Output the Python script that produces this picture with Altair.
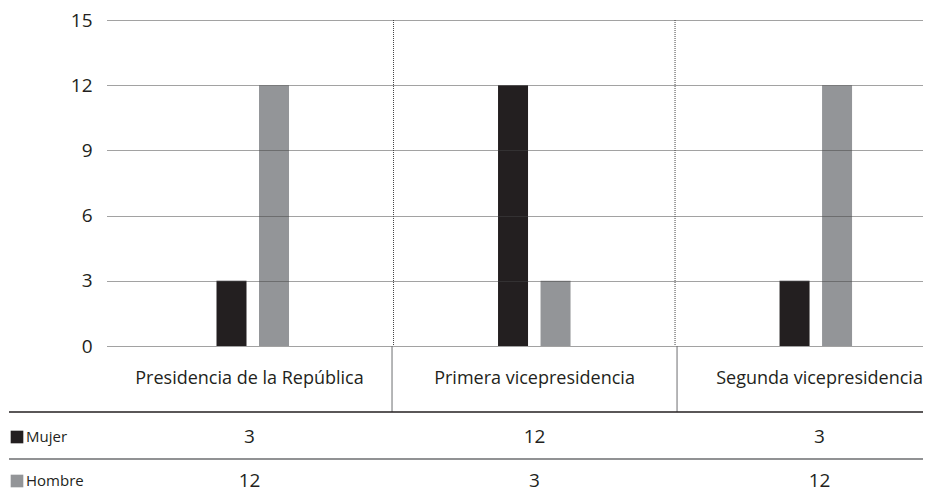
import altair as alt
import pandas as pd

categorias = ["Presidencia de la República", "Primera vicepresidencia", "Segunda vicepresidencia"]
series = ["Mujer", "Hombre"]
mujer = [3, 12, 3]
hombre = [12, 3, 12]
y_ticks = [0, 3, 6, 9, 12, 15]
colores = ["#231f20", "#939598"]

FONT = "Open Sans"
TXT = "#231f20"
W = 816
H = 326
XDOM = [-0.5, 2.363]

rows = []
for i, c in enumerate(categorias):
    rows.append({"idx": i, "categoria": c, "serie": "Mujer", "valor": mujer[i]})
    rows.append({"idx": i, "categoria": c, "serie": "Hombre", "valor": hombre[i]})
df = pd.DataFrame(rows)
cat_df = pd.DataFrame({"idx": list(range(len(categorias))), "categoria": categorias,
                       "Mujer": mujer, "Hombre": hombre})
sep_df = pd.DataFrame({"sep": [i + 0.5 for i in range(len(categorias) - 1)]})
one = pd.DataFrame({"k": [0]})

xscale = alt.Scale(domain=XDOM, nice=False, zero=False)
color = alt.Color("serie:N", scale=alt.Scale(domain=series, range=colores), legend=None)

bars = alt.Chart(df).transform_calculate(
    pos="datum.idx + (datum.serie == 'Mujer' ? -0.0755 : 0.0755)"
).mark_bar(width=30).encode(
    x=alt.X("pos:Q", scale=xscale,
            axis=alt.Axis(title=None, labels=False, ticks=False, grid=False, domain=True,
                          domainColor=TXT, domainWidth=1.3)),
    y=alt.Y("valor:Q", scale=alt.Scale(domain=[0, 15], nice=False),
            axis=alt.Axis(title=None, values=y_ticks, domain=False, ticks=False, grid=True,
                          gridDash=[1, 1], gridColor="#444", labelPadding=15, labelFontSize=19,
                          labelColor=TXT, labelFont=FONT, zindex=1)),
    color=color,
)
vsep = alt.Chart(sep_df).mark_rule(strokeDash=[1, 1], color="#444").encode(
    x=alt.X("sep:Q", scale=xscale, axis=None)
)
top = alt.layer(bars, vsep).properties(width=W, height=H)

# Category row
CH = 66
cat_row = alt.layer(
    alt.Chart(cat_df).mark_text(font=FONT, fontSize=18, color=TXT).encode(
        x=alt.X("idx:Q", scale=xscale, axis=None), y=alt.value(CH / 2), text="categoria:N"),
    alt.Chart(sep_df).mark_rule(color="#6d6e71").encode(
        x=alt.X("sep:Q", scale=xscale, axis=None), y=alt.value(0), y2=alt.value(CH)),
    alt.Chart(one).mark_rule(color=TXT, strokeWidth=1.3).encode(
        x=alt.value(-98), x2=alt.value(W), y=alt.value(CH)),
).properties(width=W, height=CH)


def value_row(serie, col, h, ty, line):
    layers = [
        alt.Chart(cat_df).mark_text(font=FONT, fontSize=19, color=TXT).encode(
            x=alt.X("idx:Q", scale=xscale, axis=None), y=alt.value(ty), text=f"{serie}:N"),
        alt.Chart(one).mark_square(size=160, opacity=1, color=col, filled=True).encode(
            x=alt.value(-90), y=alt.value(ty)),
        alt.Chart(one).mark_text(font=FONT, fontSize=15, color=TXT, align="left").encode(
            x=alt.value(-81), y=alt.value(ty), text=alt.value(serie)),
    ]
    if line:
        layers.append(alt.Chart(one).mark_rule(color="#6d6e71", strokeWidth=1.3).encode(
            x=alt.value(-98), x2=alt.value(W), y=alt.value(h)))
    return alt.layer(*layers).properties(width=W, height=h)


row_m = value_row("Mujer", colores[0], 47, 25, True)
row_h = value_row("Hombre", colores[1], 33, 22, False)

chart = alt.vconcat(top, cat_row, row_m, row_h, spacing=0, bounds="flush").properties(
    padding={"left": 0, "top": 3, "right": 0, "bottom": 0}
).configure_view(stroke=None)

chart.save("out.html", embed_options={"renderer": "svg", "actions": False})
